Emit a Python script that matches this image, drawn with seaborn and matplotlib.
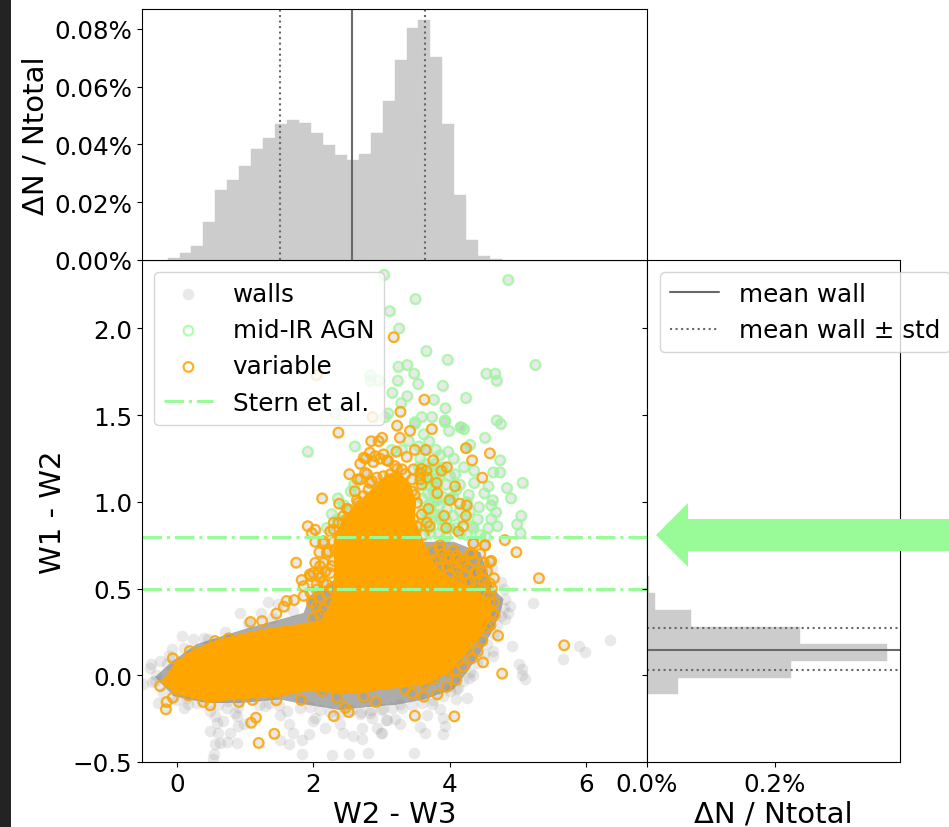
import numpy as np

import matplotlib
matplotlib.use('Agg')
import matplotlib.pyplot as plt
from matplotlib.patches import FancyArrow, Rectangle
from matplotlib.ticker import StrMethodFormatter
import seaborn as sns

# histogram W2 - W3 (bin middles, % of total)
w23_bins = [-0.05, 0.13, 0.30, 0.48, 0.65, 0.83, 1.00, 1.18, 1.35, 1.53, 1.70, 1.88, 2.05, 2.23,
            2.40, 2.58, 2.75, 2.93, 3.10, 3.28, 3.45, 3.63, 3.80, 3.98, 4.15, 4.33, 4.50, 4.68]
w23_pct = [0.0006, 0.0023, 0.005, 0.0132, 0.0241, 0.0278, 0.0327, 0.0384, 0.0424, 0.047, 0.0483,
           0.0475, 0.0438, 0.0398, 0.0364, 0.0347, 0.0368, 0.0438, 0.0551, 0.0691, 0.0802, 0.083,
           0.0704, 0.047, 0.0225, 0.0068, 0.0014, 0.0003]
w23_mean = 2.57
w23_std = [1.51, 3.635]

# histogram W1 - W2
w12_bins = [-0.06, 0.04, 0.14, 0.23, 0.33, 0.43, 0.52]
w12_pct = [0.048, 0.226, 0.376, 0.239, 0.0695, 0.013, 0.003]
w12_mean = 0.148
w12_std = [0.029, 0.271]

stern_cuts = [0.8, 0.5]

# points that can be told apart in the picture, read by eye
wall_points = [
    (0.92, 0.36), (1.34, 0.425), (1.49, 0.41), (1.23, 0.357), (0.07, 0.227), (0.24, 0.21), (0.46, 0.21),
    (-0.07, 0.154), (-0.38, 0.063), (-0.245, 0.083), (-0.39, 0.044), (-0.15, 0.063), (-0.49, -0.052),
    (-0.32, -0.033), (-0.27, -0.158), (0.10, -0.187), (0.17, -0.167), (0.49, -0.206), (0.56, -0.235),
    (0.73, -0.187), (0.85, -0.216), (1.30, -0.177), (1.52, -0.231), (1.61, -0.206), (1.64, -0.283),
    (0.59, -0.273), (0.68, -0.264), (0.48, -0.321), (0.60, -0.335), (0.78, -0.331), (0.90, -0.292),
    (0.98, -0.283), (0.88, -0.235), (0.63, -0.393), (0.56, -0.398), (0.74, -0.385), (0.88, -0.393),
    (0.55, -0.456), (0.53, -0.485), (1.51, -0.373), (1.70, -0.335), (1.65, -0.398), (1.83, -0.373),
    (1.94, -0.337), (1.84, -0.456), (2.28, -0.462), (2.53, -0.456), (2.80, -0.446), (2.00, -0.264),
    (2.03, -0.244), (2.17, -0.302), (2.40, -0.283), (2.44, -0.331), (2.59, -0.35), (2.71, -0.369),
    (2.71, -0.302), (2.86, -0.244), (2.93, -0.302), (3.01, -0.335), (3.08, -0.26), (2.69, -0.225),
    (2.84, -0.219), (5.22, 0.419), (4.89, 0.40), (4.86, 0.361), (4.81, 0.323), (4.92, 0.169),
    (4.64, 0.14), (4.64, 0.11), (5.90, 0.169), (5.99, 0.136), (6.35, 0.204), (5.67, 0.096), (5.02, 0.063),
    (5.06, 0.034), (5.06, 0.0), (5.10, -0.023), (4.35, 0.0), (4.28, -0.014), (4.25, -0.129), (4.10, -0.135),
    (4.13, -0.071), (3.86, -0.196), (3.74, -0.167), (3.67, -0.231), (3.07, -0.258), (3.20, -0.254),
    (3.27, -0.283), (3.00, -0.331), (3.57, -0.296), (3.64, -0.335), (3.93, -0.292), (3.91, -0.337),
    (3.91, -0.244), (3.48, -0.446), (3.27, -0.167), (3.03, -0.196),
    # soft rim around the core
    (0.0, -0.14), (0.3, -0.16), (0.6, -0.17), (0.9, -0.18), (1.2, -0.17), (1.5, -0.17), (1.8, -0.19),
    (2.1, -0.2), (2.4, -0.22), (2.7, -0.21), (3.0, -0.2), (3.3, -0.19), (3.6, -0.16), (3.9, -0.12),
    (4.1, -0.08), (4.3, 0.02), (4.5, 0.12), (4.65, 0.24), (4.75, 0.34), (4.82, 0.44), (4.75, 0.54),
    (4.62, 0.62), (-0.12, 0.11), (0.1, 0.16), (0.4, 0.215), (0.7, 0.25), (1.05, 0.3), (1.4, 0.33),
    (1.7, 0.37), (-0.3, 0.0), (-0.36, -0.04), (-0.2, -0.1), (0.15, -0.13), (0.75, -0.15), (1.35, -0.16),
    (1.95, -0.18), (2.25, -0.21), (2.55, -0.2), (2.85, -0.2), (3.15, -0.19), (3.45, -0.17), (3.75, -0.14),
    (4.0, -0.09), (4.2, -0.03), (4.4, 0.07), (4.55, 0.18), (4.7, 0.29), (4.8, 0.39), (4.8, 0.5),
]

agn_points = [
    (3.04, 2.31), (4.86, 2.28), (3.50, 2.17), (3.12, 2.10), (3.26, 2.00), (3.66, 1.87), (3.97, 1.82),
    (3.25, 1.78), (3.38, 1.79), (3.48, 1.74), (3.24, 1.70), (3.54, 1.68), (3.90, 1.67), (4.54, 1.74),
    (4.67, 1.74), (4.69, 1.70), (5.26, 1.79), (3.16, 1.63), (3.38, 1.61), (3.29, 1.57), (3.77, 1.59),
    (4.24, 1.60), (3.94, 1.54), (3.10, 1.51), (3.05, 1.49), (3.59, 1.49), (3.74, 1.49), (3.49, 1.46),
    (3.93, 1.47), (4.69, 1.47), (4.75, 1.45), (4.17, 1.43), (2.84, 1.73), (2.96, 1.70), (2.84, 1.70),
    (2.32, 1.51), (1.92, 1.29), (2.61, 1.32), (2.55, 1.06), (2.36, 1.02), (2.27, 0.93), (3.99, 1.41),
    (3.93, 1.46), (4.16, 1.43), (4.21, 1.42), (4.52, 1.37), (4.30, 1.33), (4.24, 1.31), (4.74, 1.24),
    (4.64, 1.17), (4.74, 1.17), (5.07, 1.11), (4.84, 1.08), (4.90, 1.02), (4.57, 1.09), (4.51, 1.05),
    (4.63, 1.01), (4.61, 0.98), (4.43, 0.97), (4.68, 0.94), (5.05, 0.92), (4.99, 0.87), (5.04, 0.82),
    (4.61, 0.90), (4.41, 0.90), (4.70, 0.86), (4.57, 0.85), (4.53, 0.80), (4.28, 1.04), (4.36, 1.11),
    (4.21, 1.20), (4.36, 1.18), (4.06, 1.25), (3.98, 1.29), (3.86, 1.27), (3.57, 1.25), (3.62, 1.39),
    (3.49, 1.45), (4.08, 1.16), (4.25, 1.00), (3.81, 1.01), (3.76, 1.06), (3.71, 0.99), (3.96, 0.96),
    (4.10, 1.07), (4.33, 0.86), (4.25, 0.81), (3.81, 0.92), (3.71, 0.82), (4.45, 0.81), (3.72, 1.20),
    (3.65, 1.30), (3.60, 1.18), (3.75, 1.12), (3.85, 1.15), (3.95, 1.10), (3.68, 1.05), (3.80, 1.10),
    (3.90, 1.03), (4.00, 1.02), (3.85, 0.98), (3.75, 0.93), (4.05, 0.92), (4.15, 0.95), (3.65, 0.90),
    (3.90, 0.86), (4.10, 0.85), (4.20, 0.90), (3.55, 1.1), (3.6, 1.02), (3.7, 1.15), (3.78, 1.22),
    (3.82, 1.17), (3.9, 1.2), (3.7, 1.1), (3.75, 1.0), (3.62, 0.95), (3.58, 0.87), (3.68, 0.85),
    (3.85, 0.9), (3.95, 0.9), (3.95, 0.8), (3.85, 0.82), (4.0, 0.85), (4.15, 0.82), (4.3, 0.95),
    (4.35, 0.85), (4.0, 1.15), (4.15, 1.1), (4.05, 1.03), (3.62, 1.12), (3.55, 1.2), (3.65, 1.22),
    (3.8, 1.3), (3.7, 1.35), (3.55, 1.32), (3.3, 1.3), (3.15, 1.3), (3.4, 1.35), (2.6, 1.1),
    (2.45, 0.98), (2.35, 0.9), (2.2, 0.85),
]

variable_points = [
    (3.18, 1.95), (3.63, 1.59), (3.28, 1.52), (3.23, 1.44), (2.05, 1.73), (2.87, 1.49), (2.37, 1.40),
    (3.42, 1.41), (3.74, 1.42), (3.27, 1.37), (3.01, 1.37), (2.96, 1.35), (2.85, 1.35), (3.22, 1.29),
    (3.49, 1.30), (3.65, 1.30), (3.37, 1.26), (4.24, 1.31), (4.59, 1.28), (4.33, 1.24), (3.76, 1.24),
    (3.96, 1.20), (3.88, 1.18), (4.48, 1.14), (4.08, 1.09), (3.82, 1.05), (4.00, 1.01), (4.15, 0.99),
    (4.25, 0.98), (4.24, 0.92), (3.92, 0.92), (3.95, 0.85), (4.20, 0.86), (4.13, 0.83), (3.69, 0.96),
    (3.81, 1.11), (3.66, 1.18), (3.59, 1.19), (2.69, 1.22), (2.77, 1.25), (2.53, 1.16), (2.65, 1.13),
    (2.13, 1.02), (2.38, 0.99), (2.64, 1.01), (1.92, 0.86), (2.03, 0.84), (1.98, 0.82), (2.30, 0.88),
    (2.25, 0.83), (2.03, 0.77), (1.75, 0.65), (1.83, 0.55), (2.09, 0.71), (2.10, 0.63), (2.08, 0.59),
    (4.81, 0.78), (4.98, 0.71), (5.31, 0.56), (4.52, 0.75), (4.61, 0.66), (4.35, 0.76), (4.10, 0.69),
    (3.86, 0.75), (4.37, 0.59), (4.18, 0.53), (4.59, 0.53), (3.96, 0.63), (4.33, 0.70), (2.98, 1.25),
    (2.88, 1.23), (3.08, 1.24), (2.79, 1.16), (2.86, 1.12), (3.23, 1.19), (3.35, 1.16), (3.57, 1.13),
    (3.49, 1.04), (3.47, 0.90), (3.67, 0.88), (3.71, 0.86), (2.49, 0.96), (2.69, 0.98), (2.15, 0.76),
    (2.30, 0.77), (2.81, 1.07), (-0.16, -0.196), (-0.15, -0.154), (-0.06, -0.129), (-0.245, -0.062),
    (-0.06, 0.098), (1.08, 0.308), (1.25, 0.313), (1.46, 0.356), (1.57, 0.396), (1.72, 0.434),
    (1.86, 0.458), (1.96, 0.477), (1.61, 0.429), (1.16, -0.244), (1.09, -0.273), (1.43, -0.337),
    (1.20, -0.39), (2.30, -0.235), (2.47, -0.187), (2.52, -0.212), (1.82, -0.142), (2.92, -0.154),
    (2.74, -0.123), (2.35, -0.129), (2.13, -0.09), (1.46, -0.144), (1.11, -0.142), (0.91, -0.154),
    (0.49, -0.173), (0.39, -0.154), (0.17, -0.116), (0.56, 0.198), (0.76, 0.213), (0.19, 0.14),
    (4.71, 0.229), (5.68, 0.173), (4.41, 0.138), (4.49, 0.075), (4.77, 0.01), (3.49, -0.233),
    (4.07, -0.237), (3.62, -0.123), (3.82, -0.11), (3.96, -0.066), (4.10, -0.027), (4.08, 0.025),
    (3.98, 0.025), (3.77, -0.019), (3.63, -0.052), (3.45, -0.104), (3.35, -0.081), (4.27, 0.14),
    (4.13, 0.083), (4.55, 0.275), (4.62, 0.361), (4.59, 0.419), (4.50, 0.467), (4.13, 0.669),
    (4.13, 0.563), (3.96, 0.63), (4.35, 0.761), (4.52, 0.75), (4.59, 0.655), (4.39, 0.592), (4.25, 0.534),
    (3.89, 0.554), (4.30, 0.698), (4.50, 0.65), (3.86, 0.727), (4.00, 0.688), (4.20, 0.64), (4.42, 0.534),
    (3.74, 0.65), (2.20, 0.707), (2.25, 0.59), (2.00, 0.59), (2.15, 0.534), (1.96, 0.572), (2.05, 0.495),
    # dense rings around the upper part of the core
    (2.74, 1.255), (2.83, 1.284), (2.91, 1.264), (3.03, 1.274), (3.10, 1.236), (3.20, 1.207), (3.30, 1.188),
    (3.47, 1.188), (3.57, 1.168), (3.45, 1.13), (3.67, 1.14), (3.59, 1.10), (3.45, 1.06), (3.52, 0.995),
    (3.59, 0.928), (3.40, 0.90), (3.52, 0.86), (3.62, 0.81), (2.69, 1.13), (2.76, 1.168), (2.83, 1.11),
    (2.93, 1.14), (3.03, 1.149), (3.13, 1.159), (2.61, 1.062), (2.74, 1.034), (2.66, 0.995), (2.52, 0.957),
    (2.44, 0.918), (2.37, 0.88), (2.30, 0.841), (2.40, 0.812), (2.49, 0.899), (2.15, 0.774), (2.22, 0.716),
    (2.32, 0.726), (2.03, 0.649), (2.15, 0.649), (2.27, 0.63), (1.95, 0.582), (2.10, 0.563), (2.20, 0.524),
    (1.86, 0.514), (2.05, 0.524), (2.0, 0.33), (2.05, 0.40), (2.1, 0.45), (2.15, 0.38), (2.2, 0.47),
    (2.1, 0.35), (2.25, 0.42), (1.98, 0.42), (2.28, 0.5), (2.18, 0.6), (2.3, 0.66),
    # mixed rings over the dark patch on the right
    (3.75, 0.72), (3.8, 0.66), (3.9, 0.70), (3.95, 0.67), (4.05, 0.72), (4.05, 0.62), (4.12, 0.60),
    (4.18, 0.66), (4.22, 0.58), (4.28, 0.62), (4.3, 0.54), (4.35, 0.66), (4.45, 0.70), (4.47, 0.60),
    (4.5, 0.55), (4.55, 0.60), (4.62, 0.50), (4.65, 0.56), (4.58, 0.46), (3.72, 0.6), (3.85, 0.62),
    (4.0, 0.58), (4.15, 0.54), (4.4, 0.5), (4.65, 0.42), (4.66, 0.35), (4.6, 0.29), (4.48, 0.2),
    (4.33, 0.1), (4.2, 0.05),
]

# the saturated middle cannot be read point by point, so only its outline is kept
wall_core = [
    (-0.32, -0.01), (-0.245, -0.04), (-0.05, -0.12), (0.44, -0.16), (0.93, -0.16), (1.52, -0.14),
    (1.91, -0.17), (2.39, -0.20), (2.88, -0.18), (3.22, -0.17), (3.62, -0.14), (4.06, -0.08), (4.25, 0.015),
    (4.45, 0.13), (4.64, 0.265), (4.76, 0.38), (4.79, 0.44), (4.64, 0.50), (4.45, 0.71), (4.06, 0.77),
    (3.62, 0.77), (2.50, 0.60), (1.95, 0.458), (1.86, 0.36), (0.98, 0.265), (0.29, 0.18), (-0.07, 0.08),
]
variable_core = [
    (-0.10, 0.015), (0.0, 0.07), (0.20, 0.13), (0.54, 0.19), (0.93, 0.23), (1.37, 0.265), (1.76, 0.285),
    (2.15, 0.31), (2.3, 0.45), (2.33, 0.6), (2.32, 0.78), (2.45, 0.9), (2.69, 1.0), (2.93, 1.09),
    (3.08, 1.15), (3.25, 1.17), (3.42, 1.09), (3.49, 1.0), (3.47, 0.9), (3.6, 0.77), (3.7, 0.68),
    (3.85, 0.60), (4.05, 0.55), (4.3, 0.50), (4.58, 0.43), (4.62, 0.39), (4.57, 0.32), (4.40, 0.207),
    (4.20, 0.12), (3.96, 0.015), (3.62, -0.05), (3.13, -0.07), (2.49, -0.10), (1.95, -0.08), (1.42, -0.12),
    (0.88, -0.13), (0.49, -0.15), (0.0, -0.10), (-0.2, -0.04),
]

sns.set_style("ticks", {"axes.edgecolor": "black", "xtick.color": "black", "ytick.color": "black",
                        "text.color": "black", "axes.labelcolor": "black"})
plt.rcParams['font.family'] = ['DejaVu Sans']
plt.rcParams['font.size'] = 17.7

W, H = 949, 828
fig = plt.figure(figsize=(W / 100, H / 100), dpi=100, facecolor='white')
ax = fig.add_axes([142 / W, (H - 763) / H, 505 / W, 502 / H])
ax_top = fig.add_axes([142 / W, (H - 261) / H, 505 / W, 251 / H])
ax_right = fig.add_axes([647 / W, (H - 763) / H, 253 / W, 502 / H])

# every AGN and variable source is also a wall galaxy
walls = np.array(wall_points + agn_points + variable_points)
agn = np.array(agn_points)
variable = np.array(variable_points)

sns.scatterplot(x=walls[:, 0], y=walls[:, 1], ax=ax, color='gray', alpha=0.17, s=70,
                linewidth=0, label='walls')
ax.fill(*zip(*wall_core), color='#808080', alpha=0.65, lw=0)
sns.scatterplot(x=agn[:, 0], y=agn[:, 1], ax=ax, s=48, facecolor='none', edgecolor='palegreen',
                linewidth=1.6, alpha=0.75, label='mid-IR AGN')
ax.fill(*zip(*variable_core), color='orange', lw=2)
sns.scatterplot(x=variable[:, 0], y=variable[:, 1], ax=ax, s=48, facecolor='none', edgecolor='orange',
                linewidth=1.6, alpha=0.85, label='variable')
for i, cut in enumerate(stern_cuts):
    ax.axhline(cut, color='palegreen', ls='-.', lw=2.2, label='Stern et al.' if i == 0 else None)

ax.set_xlim(-0.51, 6.895)
ax.set_ylim(-0.5, 2.395)
ax.set_xticks([0, 2, 4, 6])
ax.set_yticks([-0.5, 0, 0.5, 1, 1.5, 2])
ax.set_yticklabels(['\u22120.5', '0.0', '0.5', '1.0', '1.5', '2.0'])
ax.set_xlabel('W2 - W3', fontsize=21, labelpad=3)
ax.set_ylabel('W1 - W2', fontsize=21, labelpad=4)
ax.legend(loc='upper left', bbox_to_anchor=(12 / 505, 1 - 12 / 502), borderaxespad=0, fontsize=17.7)

# top histogram
sns.histplot(x=w23_bins, weights=w23_pct, bins=28, binrange=(-0.135, 4.77), color='#cccccc', alpha=1,
             edgecolor='#cccccc', linewidth=0.3, ax=ax_top)
ax_top.axvline(w23_mean, color='dimgray', lw=1.5)
for v in w23_std:
    ax_top.axvline(v, color='dimgray', lw=1.5, ls=':')
ax_top.set_xlim(ax.get_xlim())
ax_top.set_ylim(0, 0.0869)
ax_top.set_yticks([0, 0.02, 0.04, 0.06, 0.08])
ax_top.yaxis.set_major_formatter(StrMethodFormatter('{x:.2f}%'))
ax_top.tick_params(bottom=False, labelbottom=False)
ax_top.set_xlabel('')
ax_top.set_ylabel('\u0394N / Ntotal', fontsize=21, labelpad=3)

# right histogram
sns.histplot(y=w12_bins, weights=w12_pct, bins=7, binrange=(-0.11, 0.57), color='#cccccc', alpha=1,
             edgecolor='#cccccc', linewidth=0.3, ax=ax_right)
ax_right.axhline(w12_mean, color='dimgray', lw=1.5, label='mean wall')
for i, v in enumerate(w12_std):
    ax_right.axhline(v, color='dimgray', lw=1.5, ls=':', label='mean wall \u00b1 std' if i == 0 else None)
ax_right.set_ylim(ax.get_ylim())
ax_right.set_xlim(0, 0.396)
ax_right.set_xticks([0, 0.2])
ax_right.xaxis.set_major_formatter(StrMethodFormatter('{x:.1f}%'))
ax_right.set_yticks(ax.get_yticks())
ax_right.tick_params(labelleft=False)
ax_right.set_ylabel('')
ax_right.set_xlabel('\u0394N / Ntotal', fontsize=21, labelpad=3)
ax_right.legend(loc='upper left', bbox_to_anchor=(13 / 253, 1 - 12 / 502), borderaxespad=0, fontsize=17.7)

# dark strip on the left edge and the arrow added on top of the figure
fig.add_artist(Rectangle((0, 0), 11 / W, 1, transform=fig.transFigure, color='#232323', lw=0))
fig.add_artist(FancyArrow(9.49, (H - 536) / 100, -2.93, 0, width=0.32, head_width=0.64, head_length=0.32,
                          length_includes_head=True, color='palegreen', lw=0, transform=fig.dpi_scale_trans))

fig.savefig('out.png', dpi=100)
plt.close(fig)
